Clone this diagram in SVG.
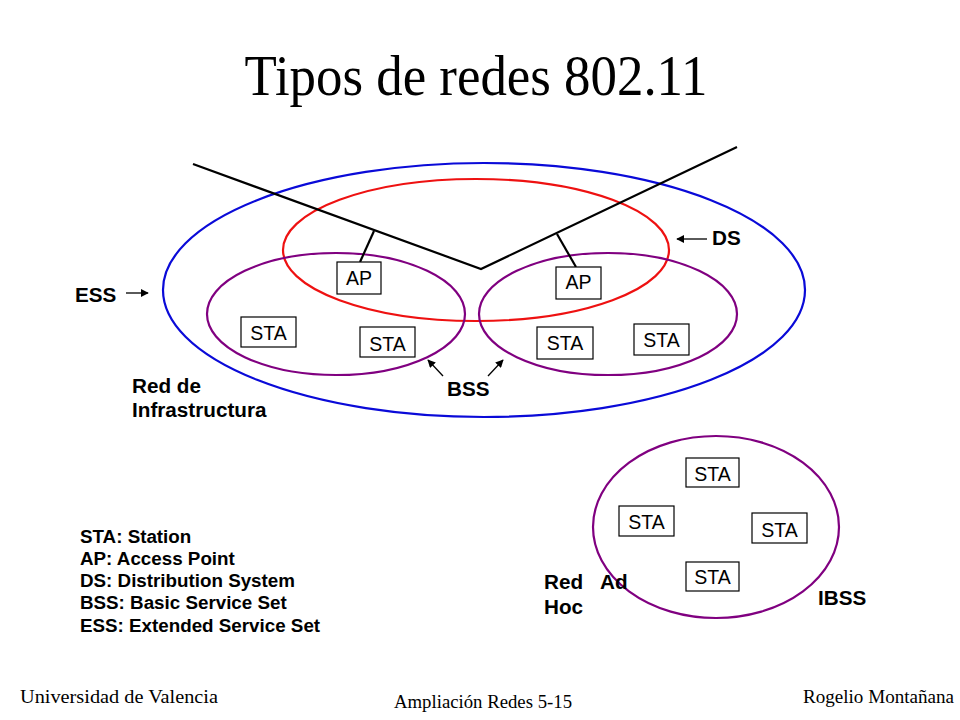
<svg xmlns="http://www.w3.org/2000/svg" width="960" height="720" viewBox="0 0 960 720">
<defs>
<marker id="ah" viewBox="0 0 10 10" refX="9" refY="5" markerWidth="8" markerHeight="8" markerUnits="userSpaceOnUse" orient="auto">
<path d="M0,0 L10,5 L0,10 z" fill="#000"/>
</marker>
</defs>
<style>
.ell{fill:none;stroke-width:2.2}
.wire{fill:none;stroke:#000;stroke-width:2.2}
.box{fill:#fff;stroke:#000;stroke-width:1.2}
.bt{font-family:"Liberation Sans",Arial,sans-serif;font-size:19.5px;fill:#000}
.lbl{font-family:"Liberation Sans",Arial,sans-serif;font-size:20.7px;font-weight:bold;fill:#000}
.leg{font-family:"Liberation Sans",Arial,sans-serif;font-size:18.8px;font-weight:bold;fill:#000}
.ser{font-family:"Liberation Serif","Times New Roman",serif;fill:#000}
.arr{stroke:#000;stroke-width:1.3;fill:none}
</style>
<rect width="960" height="720" fill="#fff"/>
<text class="ser" x="476" y="95" font-size="57" text-anchor="middle" textLength="463" lengthAdjust="spacingAndGlyphs">Tipos de redes 802.11</text>

<g id="ess"><ellipse class="ell" stroke="#0a0ad8" cx="484" cy="290" rx="321" ry="127"/></g>
<g id="ds"><ellipse class="ell" stroke="#ee1111" cx="476" cy="250" rx="193" ry="71"/></g>
<g id="bss-left"><ellipse class="ell" stroke="#800080" cx="336" cy="314" rx="129" ry="61"/></g>
<g id="bss-right"><ellipse class="ell" stroke="#800080" cx="608" cy="314" rx="129" ry="61"/></g>
<g id="ibss"><ellipse class="ell" stroke="#800080" cx="716" cy="527" rx="123" ry="91"/></g>

<g id="connectors">
<polyline class="wire" points="193,164 481,269 737,147"/>
<line class="wire" x1="360" y1="262" x2="374" y2="231"/>
<line class="wire" x1="576" y1="267" x2="557" y2="234"/>
<line class="arr" x1="707" y1="239" x2="677" y2="239" marker-end="url(#ah)"/>
<line class="arr" x1="126" y1="293" x2="148" y2="293" marker-end="url(#ah)"/>
<line class="arr" x1="443" y1="376" x2="428" y2="360" marker-end="url(#ah)"/>
<line class="arr" x1="488" y1="376" x2="503" y2="360" marker-end="url(#ah)"/>
</g>

<g id="ap1"><rect class="box" x="337" y="262" width="44" height="32"/><text class="bt" x="359" y="285" text-anchor="middle">AP</text></g>
<g id="ap2"><rect class="box" x="556" y="267" width="45" height="32"/><text class="bt" x="578.5" y="289" text-anchor="middle">AP</text></g>
<g id="sta1"><rect class="box" x="241" y="317" width="55" height="30"/><text class="bt" x="268.5" y="340" text-anchor="middle">STA</text></g>
<g id="sta2"><rect class="box" x="360" y="327" width="55" height="30"/><text class="bt" x="387.5" y="351" text-anchor="middle">STA</text></g>
<g id="sta3"><rect class="box" x="537" y="327" width="56" height="32"/><text class="bt" x="565" y="350" text-anchor="middle" font-size="17">STA</text></g>
<g id="sta4"><rect class="box" x="634" y="324" width="55" height="31"/><text class="bt" x="661.5" y="347" text-anchor="middle">STA</text></g>
<g id="sta5"><rect class="box" x="686" y="458" width="53" height="29"/><text class="bt" x="712.5" y="481" text-anchor="middle">STA</text></g>
<g id="sta6"><rect class="box" x="619" y="506" width="55" height="30"/><text class="bt" x="646.5" y="529" text-anchor="middle">STA</text></g>
<g id="sta7"><rect class="box" x="752" y="513" width="55" height="30"/><text class="bt" x="779.5" y="537" text-anchor="middle">STA</text></g>
<g id="sta8"><rect class="box" x="686" y="562" width="53" height="29"/><text class="bt" x="712.5" y="584" text-anchor="middle">STA</text></g>

<g id="labels">
<text class="lbl" x="712" y="245">DS</text>
<text class="lbl" x="75" y="302">ESS</text>
<text class="lbl" x="447" y="396">BSS</text>
<text class="lbl" x="132" y="393">Red de</text>
<text class="lbl" x="132" y="417">Infrastructura</text>
<text class="lbl" x="544" y="589">Red</text>
<text class="lbl" x="600" y="589">Ad</text>
<text class="lbl" x="544" y="614">Hoc</text>
<text class="lbl" x="818" y="605">IBSS</text>
</g>

<g id="legend">
<text class="leg" x="80" y="543">STA: Station</text>
<text class="leg" x="80" y="565">AP: Access Point</text>
<text class="leg" x="80" y="587">DS: Distribution System</text>
<text class="leg" x="80" y="609">BSS: Basic Service Set</text>
<text class="leg" x="80" y="632">ESS: Extended Service Set</text>
</g>

<g id="footer">
<text class="ser" x="20" y="703" font-size="18" textLength="198" lengthAdjust="spacingAndGlyphs">Universidad de Valencia</text>
<text class="ser" x="394" y="708" font-size="18" textLength="178" lengthAdjust="spacingAndGlyphs">Ampliación Redes 5-15</text>
<text class="ser" x="803" y="703" font-size="18" textLength="151" lengthAdjust="spacingAndGlyphs">Rogelio Montañana</text>
</g>
</svg>
